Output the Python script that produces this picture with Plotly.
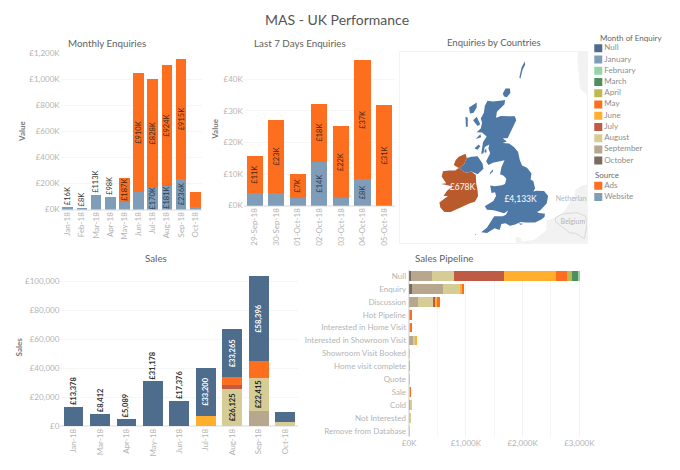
import math
import plotly.graph_objects as go

# === Monthly Enquiries ===
months_enq = ["Jan-18", "Feb-18", "Mar-18", "Apr-18", "May-18", "Jun-18", "Jul-18", "Aug-18", "Sep-18", "Oct-18"]
monthly_website = [16, 8, 113, 98, 58, 135, 170, 181, 236, 20]
monthly_ads = [0, 0, 0, 0, 187, 910, 828, 924, 915, 118]
monthly_website_lbl = ["", "", "", "", "", "", "£170K", "£181K", "£236K", ""]
monthly_ads_lbl = ["", "", "", "", "£187K", "£910K", "£828K", "£924K", "£915K", ""]
monthly_above_lbl = ["£16K", "£8K", "£113K", "£98K", "", "", "", "", "", ""]

# === Last 7 Days ===
days = ["29-Sep-18", "30-Sep-18", "01-Oct-18", "02-Oct-18", "03-Oct-18", "04-Oct-18", "05-Oct-18"]
days_website = [4.0, 3.9, 2.4, 13.9, 2.4, 8.3, 0]
days_ads = [11.6, 23.3, 7.6, 18.4, 22.7, 37.6, 31.7]
days_website_lbl = ["", "", "", "£14K", "", "£8K", ""]
days_ads_lbl = ["£11K", "£23K", "£7K", "£18K", "£22K", "£37K", "£31K"]

# === Sales ===
months_sales = ["Jan-18", "Mar-18", "Apr-18", "May-18", "Jun-18", "Jul-18", "Aug-18", "Sep-18", "Oct-18"]
sales_null = [13378, 8412, 5089, 31178, 17376, 33200, 33265, 58396, 6900]
sales_may = [0, 0, 0, 0, 0, 0, 5000, 12000, 0]
sales_june = [0, 0, 0, 0, 0, 7400, 0, 0, 0]
sales_july = [0, 0, 0, 0, 0, 0, 2700, 0, 0]
sales_august = [0, 0, 0, 0, 0, 0, 26125, 22415, 2900]
sales_september = [0, 0, 0, 0, 0, 0, 0, 10900, 0]
sales_null_lbl = ["", "", "", "", "", "£33,200", "£33,265", "£58,396", ""]
sales_august_lbl = ["", "", "", "", "", "", "£26,125", "£22,415", ""]
sales_above_lbl = ["£13,378", "£8,412", "£5,089", "£31,178", "£17,376", "", "", "", ""]

# === Sales Pipeline ===
stages = ["Null", "Enquiry", "Discussion", "Hot Pipeline", "Interested in Home Visit",
          "Interested in Showroom Visit", "Showroom Visit Booked", "Home visit complete",
          "Quote", "Sale", "Cold", "Not Interested", "Remove from Database"]
pipe_october = [40, 52, 0, 0, 0, 0, 0, 0, 0, 0, 0, 0, 0]
pipe_september = [364, 538, 150, 18, 12, 75, 2, 3, 1, 16, 22, 15, 1]
pipe_august = [387, 300, 272, 8, 8, 45, 4, 4, 2, 6, 34, 22, 2]
pipe_july = [873, 0, 46, 0, 0, 0, 0, 0, 0, 0, 0, 0, 0]
pipe_june = [930, 40, 35, 0, 12, 12, 0, 3, 0, 0, 0, 0, 0]
pipe_may = [180, 46, 35, 14, 18, 0, 0, 0, 0, 12, 0, 0, 0]
pipe_april = [104, 0, 0, 0, 0, 0, 0, 0, 0, 0, 0, 0, 0]
pipe_march = [104, 0, 0, 0, 0, 0, 0, 0, 0, 0, 0, 0, 0]
pipe_february = [23, 0, 0, 0, 0, 0, 0, 0, 0, 0, 0, 0, 0]

# === Map outlines (lon, lat) ===
gb_lon = [-5.0, -4.4, -3.6, -3.05, -3.1, -3.95, -4.05, -3.5, -2.7, -1.95, -1.8, -2.1, -2.45, -2.75, -3.3, -2.85, -3.3, -2.6,
          -2.05, -1.6, -1.4, -1.15, -0.6, -0.1, -0.2, 0.1, 0.3, 0.1, 0.45, 1.3, 1.75, 1.6, 1.25, 0.85, 0.5, 0.75, 1.4, 1.35,
          0.95, 0.3, -0.8, -1.3, -2.0, -2.5, -3.0, -3.45, -3.65, -4.2, -5.05, -5.7, -5.05, -4.6, -4.25, -3.3, -2.95, -2.7,
          -3.15, -3.9, -4.3, -5.05, -5.3, -4.35, -4.05, -4.15, -4.55, -4.7, -4.2, -3.4, -3.05, -2.9, -3.2, -3.6, -3.45, -3.1,
          -3.9, -4.4, -4.9, -5.15, -4.7, -4.9, -4.8, -5.3, -5.45, -5.7, -5.5, -5.1, -5.6, -6.2, -5.75, -5.6, -5.75, -5.4,
          -5.3]
gb_lat = [58.6, 58.55, 58.6, 58.65, 58.4, 57.95, 57.6, 57.7, 57.68, 57.68, 57.45, 57.1, 56.65, 56.35, 56.35, 56.15, 56.05, 56.02,
          55.8, 55.5, 54.98, 54.62, 54.47, 54.1, 53.7, 53.6, 53.1, 52.9, 52.95, 52.93, 52.6, 52.1, 51.85, 51.6, 51.5, 51.43, 51.37, 51.15,
          50.95, 50.75, 50.75, 50.8, 50.6, 50.52, 50.7, 50.65, 50.22, 50.35, 50.0, 50.07, 50.4, 50.9, 51.2, 51.2, 51.3, 51.6,
          51.4, 51.55, 51.62, 51.65, 51.9, 52.25, 52.6, 52.85, 52.8, 53.3, 53.25, 53.32, 53.4, 53.75, 53.95, 54.05, 54.5, 54.95,
          54.85, 54.8, 54.65, 54.9, 55.4, 55.7, 55.95, 55.8, 55.4, 55.35, 56.1, 56.45, 56.7, 56.72, 56.95, 57.3, 57.55, 57.9,
          58.3]
ni_lon = [-7.3, -6.8, -6.1, -5.55, -5.45, -6.1, -6.3, -6.8, -7.3, -7.6, -8.15, -7.6, -7.4]
ni_lat = [55.1, 55.18, 55.22, 54.75, 54.4, 54.05, 54.1, 54.22, 54.15, 54.2, 54.45, 54.7, 55.0]
ie_lon = [-7.3, -7.45, -8.2, -8.55, -8.75, -8.2, -8.6, -9.3, -9.95, -10.1, -9.6, -10.15, -9.3, -9.0, -9.5, -9.9, -9.4, -10.35,
          -10.25, -9.8, -9.1, -8.5, -7.6, -6.9, -6.4, -6.05, -6.1, -6.25, -6.3, -6.8, -7.3, -7.6, -8.15, -7.6, -7.4]
ie_lat = [55.1, 55.38, 55.18, 54.95, 54.65, 54.45, 54.3, 54.3, 54.25, 53.9, 53.45, 53.4, 53.3, 53.2, 52.95, 52.6, 52.6, 52.15,
          51.8, 51.5, 51.5, 51.68, 51.92, 52.12, 52.2, 52.6, 52.95, 53.4, 54.0, 54.22, 54.15, 54.2, 54.45, 54.7, 55.0]
islands = {
    "Shetland": ([-1.45, -1.2, -0.85, -0.8, -1.1, -1.25, -1.35], [59.95, 60.5, 60.82, 60.65, 60.35, 59.95, 59.85]),
    "Orkney": ([-3.3, -3.0, -2.5, -2.45, -2.85, -3.15], [59.0, 59.3, 59.3, 59.05, 58.8, 58.85]),
    "Lewis": ([-7.05, -6.2, -6.2, -6.55, -6.95], [58.2, 58.5, 58.2, 57.9, 57.85]),
    "Uist": ([-7.45, -7.2, -7.2, -7.4], [57.65, 57.6, 57.05, 57.05]),
    "Skye": ([-6.6, -6.2, -5.8, -6.1, -6.4], [57.45, 57.65, 57.2, 57.1, 57.3]),
    "Mull": ([-6.3, -5.8, -5.7, -6.1], [56.3, 56.6, 56.4, 56.3]),
    "Islay": ([-6.45, -6.0, -5.8, -6.1], [55.7, 55.95, 55.85, 55.62]),
    "Arran": ([-5.35, -5.15, -5.1, -5.3], [55.55, 55.7, 55.45, 55.45]),
    "Man": ([-4.75, -4.4, -4.4, -4.7], [54.12, 54.38, 54.22, 54.05]),
    "Wight": ([-1.55, -1.1, -1.25], [50.68, 50.68, 50.58]),
    "Scilly": ([-6.4, -6.25, -6.3], [49.9, 49.95, 49.87]),
}
europe_lon = [1.6, 2.5, 3.4, 3.9, 4.6, 4.8, 5.5, 7.0, 7.0, -1.6, -1.9, -1.3, -1.2, 0.2, 1.55]
europe_lat = [50.9, 51.1, 51.4, 51.9, 52.6, 53.0, 53.3, 53.5, 48.0, 48.0, 49.7, 49.7, 49.4, 49.5, 50.2]
norway_lon = [5.2, 5.0, 5.3, 7.0, 7.0]
norway_lat = [62.0, 61.0, 59.3, 58.5, 62.0]
belgium_lon = [3.4, 4.3, 5.0, 5.9, 6.1, 5.8, 4.8, 4.2, 2.6, 2.55, 3.4]
belgium_lat = [51.37, 51.4, 51.45, 51.2, 50.7, 49.6, 50.0, 50.0, 50.8, 51.1, 51.37]
map_label_lon = [-1.32, -7.78]
map_label_lat = [52.3, 53.15]
map_labels = ["£4,133K", "£678K"]

# === Legends ===
legend_months = ["Null", "January", "February", "March", "April", "May", "June", "July", "August", "September", "October"]
legend_colors = ["#4e6d8d", "#7f9db9", "#93d4a8", "#4f8f5f", "#bdb84f", "#fd6f1f", "#ffae2e", "#bf5a45", "#d6cd96", "#b8a78f", "#7a6a60"]
legend_sources = ["Ads", "Website"]
source_colors = ["#fd6f1f", "#7f9db9"]
c = dict(zip(legend_months, legend_colors))

FONT = "Lato"
TICK = "#b4b4b4"
W, H = 680, 470


def dom_x(a, b):
    return [a / W, b / W]


def dom_y(top, bottom):
    return [1 - bottom / H, 1 - top / H]


def merc(lat):
    return math.degrees(math.log(math.tan(math.radians(45 + lat / 2))))


fig = go.Figure()


def barra(x, y, cor, xa, ya, lbl=None, lbl_cor="#333", orient="v", bold=False):
    txt = lbl if lbl else None
    fig.add_trace(go.Bar(
        x=x, y=y, marker=dict(color=cor, line=dict(width=0)), xaxis=xa, yaxis=ya, orientation=orient,
        text=txt, textposition="inside" if lbl else "none", textangle=-90, insidetextanchor="middle",
        constraintext="none", cliponaxis=False,
        insidetextfont=dict(size=7.5, color=lbl_cor, family=FONT, weight="bold" if bold else "normal"),
        showlegend=False, hoverinfo="x+y",
    ))


# === Monthly Enquiries ===
barra(months_enq, monthly_website, "#7f9db9", "x", "y", monthly_website_lbl, "#2a3a4a")
barra(months_enq, monthly_ads, "#fd6f1f", "x", "y", monthly_ads_lbl, "#3a2a20")
# === Last 7 Days ===
barra(days, days_website, "#7f9db9", "x2", "y2", days_website_lbl, "#2a3a4a")
barra(days, days_ads, "#fd6f1f", "x2", "y2", days_ads_lbl, "#3a2a20")
# === Sales ===
barra(months_sales, sales_september, c["September"], "x3", "y3")
barra(months_sales, sales_august, c["August"], "x3", "y3", sales_august_lbl, "#222", bold=True)
barra(months_sales, sales_july, c["July"], "x3", "y3")
barra(months_sales, sales_june, c["June"], "x3", "y3")
barra(months_sales, sales_may, c["May"], "x3", "y3")
barra(months_sales, sales_null, c["Null"], "x3", "y3", sales_null_lbl, "#ffffff", bold=True)
# === Pipeline ===
for vals, nome in [(pipe_october, "October"), (pipe_september, "September"), (pipe_august, "August"),
                   (pipe_july, "July"), (pipe_june, "June"), (pipe_may, "May"), (pipe_april, "April"),
                   (pipe_march, "March"), (pipe_february, "February")]:
    barra([v * 1000 for v in vals], stages, c[nome], "x4", "y4", orient="h")


# === Map ===
def poligono(lon, lat, cor, linha=None):
    fig.add_trace(go.Scatter(
        x=list(lon) + [lon[0]], y=[merc(v) for v in lat] + [merc(lat[0])], mode="lines", fill="toself",
        fillcolor=cor, line=dict(color=linha or cor, width=0.6 if linha else 0), xaxis="x5", yaxis="y5",
        showlegend=False, hoverinfo="skip",
    ))


poligono(europe_lon, europe_lat, "#f2f2f2")
poligono(norway_lon, norway_lat, "#f2f2f2")
poligono(belgium_lon, belgium_lat, "#f2f2f2", "#c9c9c9")
poligono(gb_lon, gb_lat, "#4e79a7")
poligono(ni_lon, ni_lat, "#4e79a7")
poligono(ie_lon, ie_lat, "#b85a2c")
for ilha in islands.values():
    poligono(ilha[0], ilha[1], "#4e79a7")
fig.add_trace(go.Scatter(
    x=map_label_lon, y=[merc(v) for v in map_label_lat], text=map_labels, mode="text",
    textfont=dict(size=8.5, color="#ffffff", family=FONT), xaxis="x5", yaxis="y5", showlegend=False,
))
fig.add_trace(go.Scatter(
    x=[4.7, 4.5], y=[merc(52.35), merc(50.75)], text=["Netherlands", "Belgium"], mode="text",
    textfont=dict(size=7, color="#b5b5b5", family=FONT), xaxis="x5", yaxis="y5", showlegend=False,
))

# === Legends (drawn on their own axis, pitch is tighter than plotly legend allows) ===
fig.add_trace(go.Scatter(
    x=[6] * len(legend_months), y=[44.3 + 11.47 * i for i in range(len(legend_months))], text=legend_months,
    mode="markers+text", textposition="middle right",
    marker=dict(symbol="square", size=8, color=legend_colors),
    textfont=dict(size=8, color="#8c8c8c", family=FONT), xaxis="x6", yaxis="y6", showlegend=False,
))
fig.add_trace(go.Scatter(
    x=[6] * len(legend_sources), y=[184.7 + 11.47 * i for i in range(len(legend_sources))], text=legend_sources,
    mode="markers+text", textposition="middle right",
    marker=dict(symbol="square", size=8, color=source_colors),
    textfont=dict(size=8, color="#8c8c8c", family=FONT), xaxis="x6", yaxis="y6", showlegend=False,
))


def eixo_x(dom, anchor):
    return dict(domain=dom, anchor=anchor, type="category", tickangle=-90, showgrid=False, ticks="",
                tickfont=dict(size=8, color=TICK, family=FONT), showline=False, zeroline=False, fixedrange=True)


def eixo_y(dom, anchor, faixa, vals, txts):
    return dict(domain=dom, anchor=anchor, range=faixa, tickvals=vals, ticktext=txts, showgrid=True,
                gridcolor="#f6f6f6", gridwidth=1, zeroline=True, zerolinecolor="#ececec", ticks="",
                tickfont=dict(size=8, color=TICK, family=FONT), showline=False, fixedrange=True)


anots = []


def texto(x, y, s, size, cor="#5f5f5f", angle=0, bold=False, xanchor="center"):
    anots.append(dict(x=x / W, y=1 - y / H, xref="paper", yref="paper", text=s, showarrow=False, textangle=angle,
                      xanchor=xanchor, yanchor="middle",
                      font=dict(size=size, color=cor, family=FONT, weight="bold" if bold else "normal")))


def acima(x, y, lbl, xa, ya, bold=False):
    for xi, yi, s in zip(x, y, lbl):
        if s:
            anots.append(dict(x=xi, y=yi, xref=xa, yref=ya, text=s, showarrow=False, textangle=-90, yanchor="bottom",
                              yshift=0, font=dict(size=7.5, color="#333", family=FONT, weight="bold" if bold else "normal")))


texto(335, 15, "MAS - UK Performance", 14, "#555555")
texto(102, 39, "Monthly Enquiries", 9.8)
texto(298, 39, "Last 7 Days Enquiries", 9.8)
texto(495, 38.5, "Enquiries by Countries", 9.5)
texto(151, 259, "Sales", 9.8)
texto(445, 259, "Sales Pipeline", 9.8)
texto(15, 129, "Value", 8, "#777777", angle=-90, bold=True)
texto(212, 127, "Value", 8, "#777777", angle=-90, bold=True)
texto(12, 349, "Sales", 8, "#777777", angle=-90, bold=True)
texto(601, 33.5, "Month of Enquiry", 8, "#666666", xanchor="left")
texto(596, 174, "Source", 8, "#666666", xanchor="left")

acima(months_enq, [a + b for a, b in zip(monthly_website, monthly_ads)], monthly_above_lbl, "x", "y")
acima(months_sales, sales_null, sales_above_lbl, "x3", "y3", bold=True)

fig.update_layout(
    width=W, height=H, margin=dict(l=0, r=0, t=0, b=0), autosize=False,
    paper_bgcolor="#ffffff", plot_bgcolor="#ffffff", barmode="stack", bargap=0.25,
    font=dict(family=FONT), annotations=anots, showlegend=False,
    xaxis=eixo_x(dom_x(54.5, 198.5), "y"),
    yaxis=eixo_y(dom_y(49, 209), "x", [0, 1200], [0, 200, 400, 600, 800, 1000, 1200],
                 ["£0K", "£200K", "£400K", "£600K", "£800K", "£1,000K", "£1,200K"]),
    xaxis2=eixo_x(dom_x(240.7, 394.3), "y2"),
    yaxis2=eixo_y(dom_y(48.3, 205), "x2", [0, 48.5], [0, 10, 20, 30, 40], ["£0K", "£10K", "£20K", "£30K", "£40K"]),
    xaxis3=eixo_x(dom_x(54.2, 296.2), "y3"),
    yaxis3=eixo_y(dom_y(273.8, 430.5), "x3", [0, 106000], [0, 20000, 40000, 60000, 80000, 100000],
                  ["£0", "£20,000", "£40,000", "£60,000", "£80,000", "£100,000"]),
    xaxis4=dict(domain=dom_x(408.7, 593.3), anchor="y4", range=[0, 3200000], tickvals=[0, 1000000, 2000000, 3000000],
                ticktext=["£0K", "£1,000K", "£2,000K", "£3,000K"], showgrid=True, gridcolor="#f3f3f3",
                minor=dict(dtick=500000, showgrid=True, gridcolor="#f6f6f6"),
                zeroline=True, zerolinecolor="#e4e4e4", ticks="", fixedrange=True,
                tickfont=dict(size=8, color=TICK, family=FONT)),
    yaxis4=dict(domain=dom_y(270.4, 441.6), anchor="x4", type="category", autorange="reversed", showgrid=False,
                ticks="", fixedrange=True, ticklabelstandoff=2, tickfont=dict(size=8, color=TICK, family=FONT)),
    xaxis5=dict(domain=dom_x(399, 590), anchor="y5", range=[-14.79, 6.13], showticklabels=False, ticks="", showgrid=False,
                zeroline=False, showline=True, mirror=True, linecolor="#f3f3f3", fixedrange=True),
    yaxis5=dict(domain=dom_y(48, 243), anchor="x5", range=[56.82, 78.17], showticklabels=False, ticks="", showgrid=False,
                zeroline=False, showline=True, mirror=True, linecolor="#f3f3f3", fixedrange=True),
    xaxis6=dict(domain=dom_x(595, 680), anchor="y6", range=[0, 85], visible=False, fixedrange=True),
    yaxis6=dict(domain=dom_y(28, 210), anchor="x6", range=[210, 28], visible=False, fixedrange=True),
)

fig.write_html("out.html", config={"displayModeBar": False},
               post_script="document.body.style.margin='0';document.documentElement.style.overflow='hidden';")
